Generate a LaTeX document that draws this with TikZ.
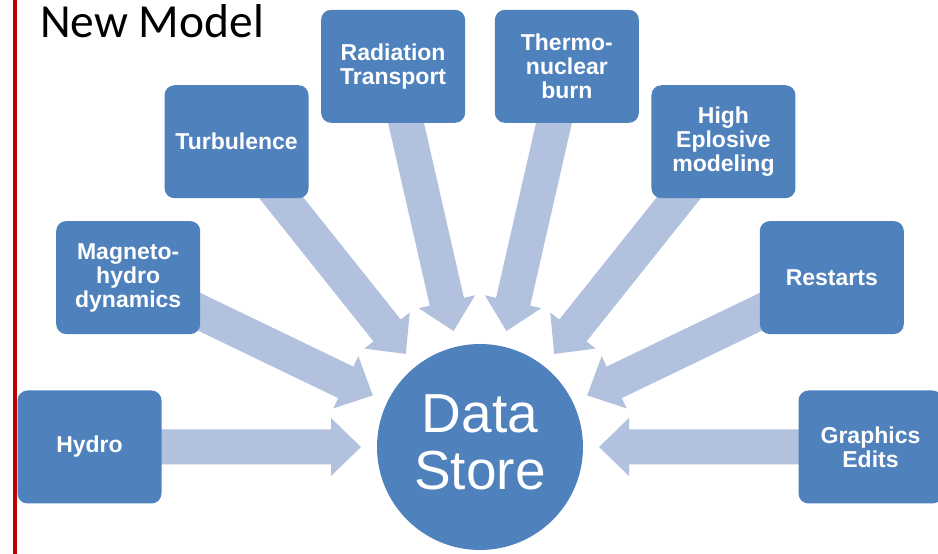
\documentclass[tikz,border=0pt]{standalone}
\usepackage{fontspec}
\setmainfont{Liberation Sans}
\newfontfamily\titlefont{Carlito}
\usetikzlibrary{calc}
\definecolor{boxcol}{HTML}{4F81BD}
\definecolor{arrowcol}{HTML}{B2C2DE}
\definecolor{redline}{HTML}{C00000}
\tikzset{
  topic/.style={draw=none, fill=boxcol, rounded corners=10pt, minimum width=144pt, minimum height=113pt,
    inner sep=2pt, align=center, text=white, font=\fontsize{23}{24}\selectfont\bfseries},
  hub/.style={circle, fill=boxcol, minimum size=206pt, inner sep=0pt},
  hubtext/.style={text=white, inner sep=0pt, anchor=base, font=\fontsize{55}{57}\selectfont},
  blockarrow/.style={fill=arrowcol, to path={
    let \p1=($(\tikztotarget)-(\tikztostart)$), \n1={atan2(\y1,\x1)} in
    ($(\tikztostart)+(\n1+90:17.5pt)$)
    -- ($(\tikztotarget)+(\n1+180:30pt)+(\n1+90:17.5pt)$)
    -- ($(\tikztotarget)+(\n1+180:30pt)+(\n1+90:29pt)$)
    -- (\tikztotarget)
    -- ($(\tikztotarget)+(\n1+180:30pt)+(\n1-90:29pt)$)
    -- ($(\tikztotarget)+(\n1+180:30pt)+(\n1-90:17.5pt)$)
    -- ($(\tikztostart)+(\n1-90:17.5pt)$) -- cycle}}
}
\begin{document}
\begin{tikzpicture}[x=1pt,y=1pt]
\clip (0,0) rectangle (938,554);
\fill[white] (0,0) rectangle (938,554);
\fill[redline] (13,0) rectangle (17,554);
\node[anchor=base west, inner sep=0pt, font=\titlefont\fontsize{47.5}{50}\selectfont] (title) at (40,516) {New Model};
\coordinate (C) at (480,107);
% box centres and arrow tips
\foreach \k in {0,...,7}{
  \coordinate (c\k) at ($(C)+({180-\k*180/7}:390.5)$);
  \coordinate (t\k) at ($(C)+({180-\k*180/7}:119)$);
}
% arrows
\foreach \k in {0,...,7}{
  \path[blockarrow] (c\k) to (t\k);
}
% boxes
\node[topic] (b0) at (c0) {Hydro};
\node[topic] (b1) at (c1) {Magneto-\\hydro\\dynamics};
\node[topic] (b2) at (c2) {Turbulence};
\node[topic] (b3) at (c3) {Radiation\\Transport};
\node[topic] (b4) at (c4) {Thermo-\\nuclear\\burn};
\node[topic] (b5) at (c5) {High\\Eplosive\\modeling};
\node[topic] (b6) at (c6) {Restarts};
\node[topic] (b7) at (c7) {Graphics\\Edits};
% hub
\node[hub] (ds) at (C) {};
\node[hubtext] (ds1) at (480,121) {Data};
\node[hubtext] (ds2) at (480,64) {Store};
\end{tikzpicture}
\end{document}
